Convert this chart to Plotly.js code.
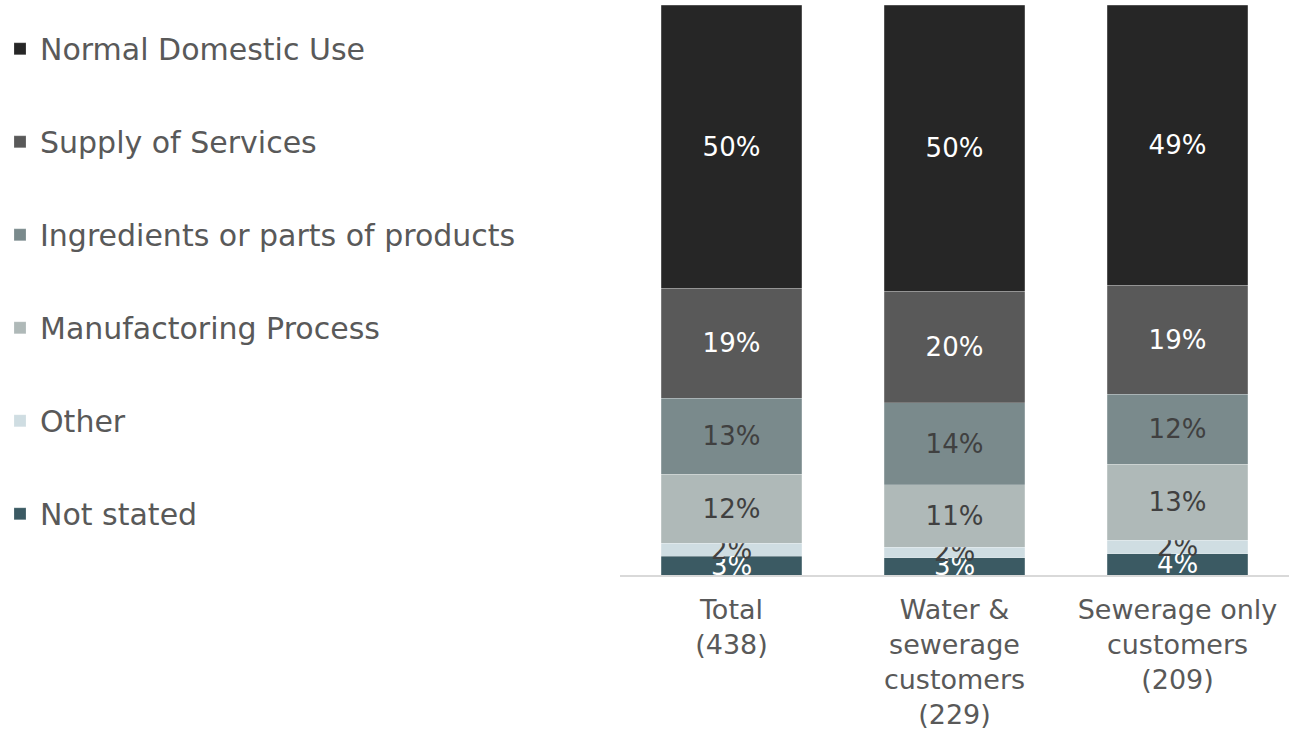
<!DOCTYPE html>
<html>
<head>
<meta charset="utf-8">
<script src="https://cdn.plot.ly/plotly-3.0.1.min.js"></script>
<style>html,body{margin:0;padding:0;background:#fff;}#chart{width:1289px;height:735px;}</style>
</head>
<body>
<div id="chart"></div>
<script>
const categories = ["Total<br>(438)", "Water &<br>sewerage<br>customers<br>(229)", "Sewerage only<br>customers<br>(209)"];
const notStated = [0.033, 0.030, 0.037];
const other = [0.023, 0.019, 0.024];
const manufacturing = [0.121, 0.109, 0.133];
const ingredients = [0.133, 0.144, 0.123];
const supply = [0.193, 0.196, 0.191];
const normalDomestic = [0.497, 0.502, 0.492];

const seriesNames = ["Not stated", "Other", "Manufactoring Process", "Ingredients or parts of products", "Supply of Services", "Normal Domestic Use"];
const seriesValues = [notStated, other, manufacturing, ingredients, supply, normalDomestic];
const seriesColors = ["#3B5A63", "#CFDDE2", "#AFB9B8", "#7A8A8C", "#595959", "#262626"];
const labelColors = ["#FFFFFF", "#404040", "#404040", "#404040", "#FFFFFF", "#FFFFFF"];

const FONT = "'DejaVu Sans', sans-serif";

const traces = seriesNames.map((name, i) => ({
  type: "bar",
  name: name,
  x: categories,
  y: seriesValues[i],
  legendgroup: "g" + i,
  legendrank: seriesNames.length - i,
  marker: {color: seriesColors[i], line: {color: "rgba(255,255,255,0.4)", width: 0.5}},
  texttemplate: "%{y:.0%}",
  textposition: "inside",
  insidetextanchor: "middle",
  textangle: 0,
  constraintext: "none",
  textfont: {family: FONT, size: 26, color: labelColors[i]},
  hoverinfo: "skip"
}));

const layout = {
  width: 1289,
  height: 735,
  barmode: "stack",
  bargap: 0.372,
  paper_bgcolor: "#ffffff",
  plot_bgcolor: "#ffffff",
  margin: {l: 620, r: 0, t: 5, b: 160, autoexpand: false},
  font: {family: FONT, color: "#595959", size: 22},
  showlegend: true,
  legend: {
    x: 0, xref: "container", y: 0.969, yref: "container", yanchor: "top",
    xanchor: "left",
    traceorder: "grouped",
    tracegroupgap: 51,
    maxheight: 720,
    font: {family: FONT, size: 30, color: "#595959"},
    itemwidth: 30,
    bgcolor: "rgba(0,0,0,0)"
  },
  xaxis: {
    type: "category",
    showline: true,
    linecolor: "#D9D9D9",
    linewidth: 1.5,
    ticks: "",
    ticklabelstandoff: 10,
    tickfont: {family: FONT, size: 27, color: "#595959"},
    showgrid: false,
    zeroline: false
  },
  yaxis: {
    range: [0, 1],
    visible: false,
    showgrid: false,
    zeroline: false
  }
};

Plotly.newPlot("chart", traces, layout, {displayModeBar: false, staticPlot: true});
</script>
</body>
</html>
